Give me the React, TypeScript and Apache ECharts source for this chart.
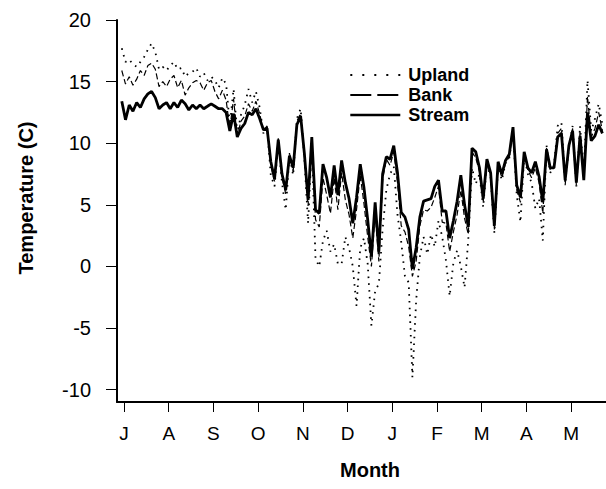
import { useEffect, useRef } from "react";
import * as echarts from "echarts";

// Month tick labels (x = months since 1 July)
const monthLabels = ["J", "A", "S", "O", "N", "D", "J", "F", "M", "A", "M"];
const monthTicks = [0, 1, 2, 3, 4, 5, 6, 7, 8, 9, 10];
const yTicks = [-10, -5, 0, 5, 10, 15, 20];
const seriesNames = ["Upland", "Bank", "Stream"];
const xTitle = "Month";
const yTitle = "Temperature (C)";

// sampling of the record: first sample and spacing, in months
const xStart = -0.05;
const xStep = 1 / 12;

const upland = [
  17.7, 16.6, 16.8, 16.4, 16.2, 16.6, 17.0, 17.6, 18.1, 17.4, 16.0, 16.2, 15.9, 16.3, 16.6, 16.0, 16.1, 15.4, 15.7, 15.8, 16.1, 15.4, 15.7, 15.1, 15.4, 15.1,
  14.5, 15.3, 14.8, 11.5, 14.4, 10.8, 12.3, 13.1, 14.4, 13.3, 14.2, 12.9, 10.8, 11.3, 7.4, 6.5, 10.1, 6.8, 4.6, 9.0, 7.4, 12.0, 12.8, 8.8, 3.5, 9.8, 0.6,
  0.0, 2.1, 2.9, 1.2, 1.8, 0.2, 0.2, 2.4, 1.5, 0.0, -3.2, 1.5, 2.3, 0.2, -4.8, -2.0, -1.4, 3.0, 6.2, 7.5, 8.1, 4.2, 2.0, -0.8, -1.3, -9.0, -2.8,
  0.8, 2.4, 1.0, 2.6, 1.6, 3.7, 2.4, 0.5, -2.4, 0.3, 1.3, 0.0, -1.7, 2.2, 8.0, 6.7, 7.5, 4.8, 8.4, 7.2, 2.7, 8.2, 7.0, 8.4, 8.8, 11.0,
  5.8, 3.6, 9.0, 7.5, 6.8, 4.7, 5.5, 2.1, 9.8, 7.6, 8.2, 11.4, 11.7, 6.8, 9.6, 11.4, 6.5, 11.4, 7.5, 15.1, 11.0, 12.0, 13.2, 11.5,
];

const bank = [
  15.9, 14.8, 15.4, 14.7, 15.2, 15.9, 15.5, 16.3, 16.5, 16.0, 14.6, 15.0, 14.6, 15.2, 15.5, 14.5, 15.1, 13.9, 14.5, 14.9, 15.1, 14.9, 14.3, 14.9, 15.1, 14.2,
  13.6, 14.3, 13.5, 11.2, 13.6, 10.6, 11.8, 12.2, 13.2, 12.6, 13.4, 12.4, 11.0, 11.4, 8.2, 6.9, 10.4, 7.2, 5.9, 9.2, 7.7, 11.8, 12.4, 9.0, 4.9, 10.3, 3.8,
  3.2, 7.2, 5.8, 4.3, 7.2, 4.6, 7.6, 5.4, 4.2, 2.3, 4.6, 7.4, 5.1, 2.4, 0.0, 4.3, 0.4, 7.0, 8.7, 8.2, 9.3, 6.8, 3.3, 2.8, 1.6, -0.8, 0.4,
  3.3, 4.6, 4.5, 4.8, 5.6, 6.5, 3.6, 3.5, 1.2, 2.8, 4.2, 6.2, 3.9, 2.6, 9.3, 8.8, 7.7, 5.2, 8.5, 7.3, 3.0, 8.3, 7.2, 8.4, 8.9, 11.1,
  6.2, 5.2, 9.1, 7.8, 7.2, 8.0, 6.8, 4.3, 9.6, 7.8, 8.1, 10.8, 11.2, 6.6, 9.7, 11.2, 6.6, 10.9, 7.2, 13.8, 10.5, 11.2, 12.5, 11.0,
];

const stream = [
  13.4, 11.9, 13.1, 12.6, 13.3, 12.9, 13.6, 14.0, 14.2, 13.7, 12.8, 13.1, 13.3, 12.8, 13.3, 12.9, 13.5, 13.2, 12.7, 13.1, 12.8, 13.1, 12.8, 13.0, 13.2, 13.0,
  12.8, 12.8, 12.5, 11.0, 12.4, 10.5, 11.2, 11.6, 12.5, 12.3, 12.8, 12.0, 11.1, 11.2, 8.5, 7.1, 10.3, 7.5, 6.2, 9.0, 8.0, 11.5, 12.2, 9.2, 5.4, 10.5, 4.6,
  4.3, 8.3, 7.2, 5.6, 8.2, 5.8, 8.6, 6.8, 5.5, 3.5, 5.6, 8.3, 6.4, 3.8, 0.8, 5.2, 1.2, 7.5, 8.9, 8.7, 9.8, 7.6, 4.4, 4.0, 3.0, -0.2, 1.5,
  4.0, 5.3, 5.4, 5.5, 6.5, 7.0, 4.5, 4.5, 2.3, 3.7, 5.3, 7.4, 5.0, 3.2, 9.6, 9.3, 8.0, 5.5, 8.7, 7.6, 3.3, 8.5, 7.5, 8.6, 9.1, 11.3,
  6.6, 5.6, 9.3, 8.0, 7.6, 8.5, 7.3, 5.2, 9.5, 8.0, 8.0, 10.5, 10.8, 7.0, 9.8, 11.0, 6.8, 10.6, 7.0, 12.5, 10.2, 10.6, 11.5, 10.8,
];

const FONT = "'Liberation Sans', Arial, Helvetica, sans-serif";

export default function App() {
  const ref = useRef<HTMLDivElement>(null);

  useEffect(() => {
    if (!ref.current) return;
    const chart = echarts.init(ref.current, null, { renderer: "svg" });
    const pts = (vals: number[]) => vals.map((v, i) => [xStart + i * xStep, v]);
    const lineStyles = [
      { color: "#000", width: 1.8, type: [1.6, 5.2] },
      { color: "#000", width: 1.2, type: [6, 3] },
      { color: "#000", width: 2.8, type: "solid" },
    ];
    const legendLineStyles = [
      { color: "#000", width: 2, type: [2, 10] },
      { color: "#000", width: 2, type: [21, 6] },
      { color: "#000", width: 2.6, type: "solid" },
    ];

    chart.setOption({
      animation: false,
      backgroundColor: "#ffffff",
      grid: { left: 117, right: 0, top: 20, bottom: 87 },
      legend: {
        orient: "vertical",
        left: 344,
        top: 61,
        itemWidth: 50,
        itemHeight: 14,
        itemGap: 2,
        itemStyle: { opacity: 0 },
        data: seriesNames.map((n, i) => ({ name: n, lineStyle: legendLineStyles[i], itemStyle: { opacity: 0 } })),
        textStyle: { fontSize: 18, fontWeight: "bold", color: "#000", fontFamily: FONT, padding: [0, 0, 0, 3] },
      },
      graphic: [
        {
          type: "text",
          x: 26,
          y: 198,
          rotation: Math.PI / 2,
          style: {
            text: yTitle,
            fontSize: 20,
            fontWeight: "bold",
            fontFamily: FONT,
            fill: "#000",
            align: "center",
            verticalAlign: "middle",
          },
        },
        {
          type: "text",
          x: 370,
          y: 470,
          style: {
            text: xTitle,
            fontSize: 20,
            fontWeight: "bold",
            fontFamily: FONT,
            fill: "#000",
            align: "center",
            verticalAlign: "middle",
          },
        },
      ],
      xAxis: {
        type: "value",
        min: -0.157,
        max: 10.78,
        axisLine: { show: true, onZero: false, lineStyle: { color: "#000", width: 2 } },
        axisTick: { show: true, customValues: monthTicks, length: 10, lineStyle: { color: "#000", width: 1 } },
        axisLabel: {
          customValues: monthTicks,
          formatter: (v: number) => monthLabels[Math.round(v)] ?? "",
          fontSize: 19,
          color: "#000",
          fontFamily: FONT,
          margin: 22,
        },
        splitLine: { show: false },
      },
      yAxis: {
        type: "value",
        min: -11,
        max: 20,
        axisLine: { show: true, onZero: false, lineStyle: { color: "#000", width: 2 } },
        axisTick: { show: true, customValues: yTicks, length: 11, lineStyle: { color: "#000", width: 1 } },
        axisLabel: { customValues: yTicks, fontSize: 20, color: "#000", fontFamily: FONT, margin: 26 },
        splitLine: { show: false },
      },
      series: [upland, bank, stream].map((vals, i) => ({
        name: seriesNames[i],
        type: "line",
        data: pts(vals),
        symbol: "none",
        showSymbol: false,
        itemStyle: { color: "#000" },
        lineStyle: lineStyles[i],
        z: i + 1,
      })),
    });

    return () => chart.dispose();
  }, []);

  return <div ref={ref} style={{ position: "fixed", left: 0, top: 0, width: 606, height: 489 }} />;
}
